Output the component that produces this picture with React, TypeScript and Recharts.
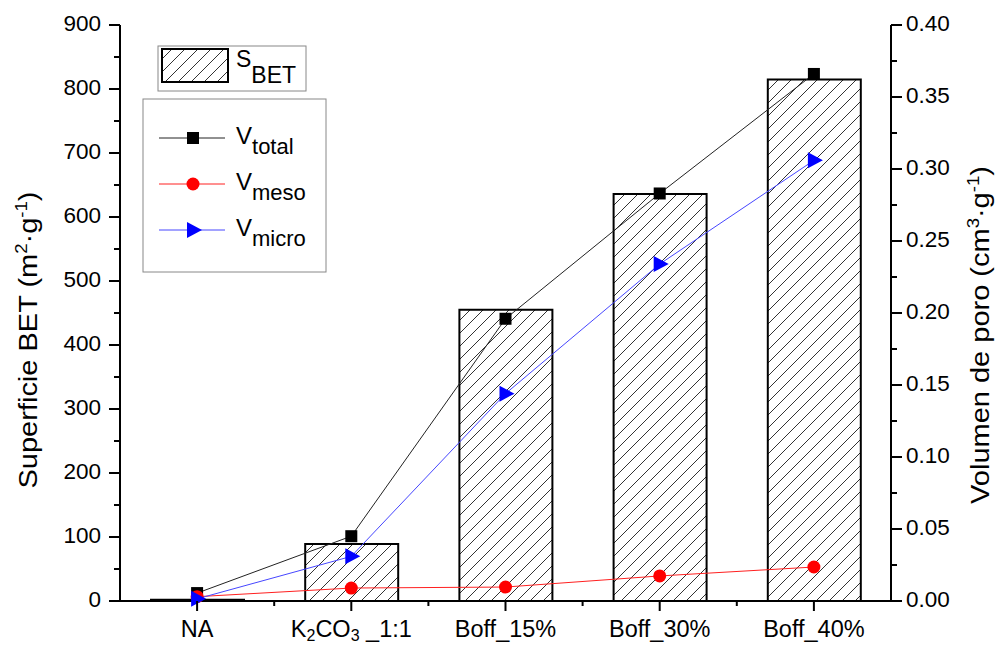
import React from "react";
import { ComposedChart, Bar, Line, XAxis, YAxis } from "recharts";

const categories = ["NA", "K2CO3 _1:1", "Boff_15%", "Boff_30%", "Boff_40%"];
const sBET = [2, 89, 455, 636, 815];
const vTotal = [0.0055, 0.045, 0.196, 0.283, 0.366];
const vMeso = [0.003, 0.009, 0.0097, 0.0174, 0.0236];
const vMicro = [0.0015, 0.031, 0.144, 0.234, 0.306];

const leftTicks = [0, 50, 100, 150, 200, 250, 300, 350, 400, 450, 500, 550, 600, 650, 700, 750, 800, 850, 900];
const rightTicks = [0, 0.025, 0.05, 0.075, 0.1, 0.125, 0.15, 0.175, 0.2, 0.225, 0.25, 0.275, 0.3, 0.325, 0.35, 0.375, 0.4];

const leftTitle: [string, boolean][] = [["Superficie BET (m", false], ["2", true], ["·g", false], ["-1", true], [")", false]];
const rightTitle: [string, boolean][] = [["Volumen de poro (cm", false], ["3", true], ["·g", false], ["-1", true], [")", false]];

const data = categories.map((name, i) => ({
  name,
  sBET: sBET[i],
  vTotal: vTotal[i],
  vMeso: vMeso[i],
  vMicro: vMicro[i],
}));

const FONT = "'Liberation Sans', Arial, sans-serif";

function splitSub(label: string) {
  const segs: { text: string; sub: boolean }[] = [];
  for (let i = 0; i < label.length; i++) {
    const ch = label[i];
    const prev = i > 0 ? label[i - 1] : "";
    const isDigit = /\d/.test(ch);
    const prevSub = segs.length > 0 && segs[segs.length - 1].sub;
    const sub = isDigit && (/[A-Za-z]/.test(prev) || (prevSub && /\d/.test(prev)));
    if (segs.length && segs[segs.length - 1].sub === sub) segs[segs.length - 1].text += ch;
    else segs.push({ text: ch, sub });
  }
  return segs;
}

const XTick = (props: any) => {
  const { x, y, payload, index } = props;
  const half = payload && typeof payload.offset === "number" && payload.offset > 0 ? payload.offset : 77;
  const segs = splitSub(String(payload.value));
  let state = false;
  return (
    <g>
      <line x1={x} y1={y} x2={x} y2={y + 10} stroke="#000" strokeWidth={2} />
      {index < categories.length - 1 && (
        <line x1={x + half} y1={y} x2={x + half} y2={y + 5} stroke="#000" strokeWidth={2} />
      )}
      <text x={x} y={y + 36} textAnchor="middle" fontSize={23.5} fontFamily={FONT} fill="#000">
        {segs.map((s, i) => {
          let dy = 0;
          if (s.sub && !state) dy = 4;
          if (!s.sub && state) dy = -4;
          state = s.sub;
          return (
            <tspan key={i} dy={dy} fontSize={s.sub ? 16 : 23.5}>
              {s.text}
            </tspan>
          );
        })}
      </text>
    </g>
  );
};

const LeftTick = (props: any) => {
  const { x, y, payload } = props;
  const v = payload.value;
  const major = Math.round(v) % 100 === 0;
  return (
    <g>
      <line x1={x} y1={y} x2={x - (major ? 11 : 6)} y2={y} stroke="#000" strokeWidth={2} />
      {major && (
        <text x={x - 19} y={y} dy={6} textAnchor="end" fontSize={22.5} fontFamily={FONT} fill="#000">
          {v}
        </text>
      )}
    </g>
  );
};

const RightTick = (props: any) => {
  const { x, y, payload } = props;
  const v = payload.value;
  const major = Math.abs(Math.round(v * 1000) % 50) === 0;
  return (
    <g>
      <line x1={x} y1={y} x2={x + (major ? 11 : 6)} y2={y} stroke="#000" strokeWidth={2} />
      {major && (
        <text x={x + 15} y={y} dy={6} textAnchor="start" fontSize={22.5} fontFamily={FONT} fill="#000">
          {v.toFixed(2)}
        </text>
      )}
    </g>
  );
};

const Square = ({ cx, cy, color }: any) => (
  <rect x={cx - 6} y={cy - 6} width={12} height={12} fill={color} />
);
const Circle = ({ cx, cy, color }: any) => <circle cx={cx} cy={cy} r={6.5} fill={color} />;
const Tri = ({ cx, cy, color }: any) => (
  <polygon points={`${cx - 6},${cy - 8} ${cx - 6},${cy + 8} ${cx + 9},${cy}`} fill={color} />
);

const series = [
  { key: "vTotal", main: "V", sub: "total", line: "#222222", marker: "#000000", Shape: Square },
  { key: "vMeso", main: "V", sub: "meso", line: "#ff2020", marker: "#ff0000", Shape: Circle },
  { key: "vMicro", main: "V", sub: "micro", line: "#4646ff", marker: "#0000ff", Shape: Tri },
];

const Title = ({ parts, x, y }: { parts: [string, boolean][]; x: number; y: number }) => {
  let state = false;
  return (
    <text
      transform={`translate(${x},${y}) rotate(-90) scale(1.16,1)`}
      textAnchor="middle"
      fontSize={25}
      fontFamily={FONT}
      fill="#000"
    >
      {parts.map(([t, sup], i) => {
        let dy = 0;
        if (sup && !state) dy = -10;
        if (!sup && state) dy = 10;
        state = sup;
        return (
          <tspan key={i} dy={dy} fontSize={sup ? 16 : 25}>
            {t}
          </tspan>
        );
      })}
    </text>
  );
};

const HatchDef = ({ id }: { id: string }) => (
  <pattern id={id} patternUnits="userSpaceOnUse" width={13} height={13}>
    <rect x={0} y={0} width={13} height={13} fill="#fff" />
    <path d="M0,13 L13,0 M-3,3 L3,-3 M10,16 L16,10" stroke="#333" strokeWidth={1} />
  </pattern>
);

export default function App() {
  return (
    <div style={{ position: "absolute", left: 0, top: 0, width: 998, height: 646, background: "#fff" }}>
      <ComposedChart
        width={998}
        height={646}
        data={data}
        margin={{ top: 25, right: 0, bottom: 0, left: 0 }}
      >
        <defs>
          <HatchDef id="hatch" />
        </defs>
        <XAxis
          dataKey="name"
          height={45}
          interval={0}
          tickSize={0}
          tickMargin={0}
          tickLine={false}
          axisLine={{ stroke: "#000", strokeWidth: 2 }}
          tick={<XTick />}
        />
        <YAxis
          yAxisId="left"
          domain={[0, 900]}
          ticks={leftTicks}
          interval={0}
          width={120}
          tickSize={0}
          tickMargin={0}
          tickLine={false}
          axisLine={{ stroke: "#000", strokeWidth: 2 }}
          tick={<LeftTick />}
        />
        <YAxis
          yAxisId="right"
          orientation="right"
          domain={[0, 0.4]}
          ticks={rightTicks}
          interval={0}
          width={107}
          tickSize={0}
          tickMargin={0}
          tickLine={false}
          axisLine={{ stroke: "#000", strokeWidth: 2 }}
          tick={<RightTick />}
        />
        <Bar
          yAxisId="left"
          dataKey="sBET"
          barSize={93}
          fill="url(#hatch)"
          stroke="#000"
          strokeWidth={2}
          isAnimationActive={false}
        />
        {series.map((s) => (
          <Line
            key={s.key}
            yAxisId="right"
            dataKey={s.key}
            stroke={s.line}
            strokeWidth={1}
            isAnimationActive={false}
            dot={(p: any) => <s.Shape key={`${s.key}-${p.index}`} cx={p.cx} cy={p.cy} color={s.marker} />}
            activeDot={false}
          />
        ))}
      </ComposedChart>
      <svg
        width={998}
        height={646}
        style={{ position: "absolute", left: 0, top: 0, pointerEvents: "none" }}
      >
        <defs>
          <HatchDef id="hatch2" />
        </defs>
        <Title parts={leftTitle} x={37} y={340} />
        <Title parts={rightTitle} x={989} y={335} />
        {/* S_BET legend */}
        <rect x={158} y={46} width={148} height={45} fill="#fff" stroke="#888" strokeWidth={1} />
        <rect x={162} y={49} width={66} height={33} fill="url(#hatch2)" stroke="#000" strokeWidth={2} />
        <text x={236} y={67} fontSize={23} fontFamily={FONT} fill="#000">
          S
          <tspan dy={16}>BET</tspan>
        </text>
        {/* V legend */}
        <rect x={143} y={99} width={183} height={173} fill="#fff" stroke="#888" strokeWidth={1} />
        {series.map((s, i) => {
          const ly = 138 + i * 46;
          return (
            <g key={s.key}>
              <line x1={159} y1={ly} x2={225} y2={ly} stroke={s.line} strokeWidth={1} />
              <s.Shape cx={193} cy={ly} color={s.marker} />
              <text x={236} y={ly + 6} fontSize={24} fontFamily={FONT} fill="#000">
                {s.main}
                <tspan dy={10} fontSize={22}>
                  {s.sub}
                </tspan>
              </text>
            </g>
          );
        })}
      </svg>
    </div>
  );
}
